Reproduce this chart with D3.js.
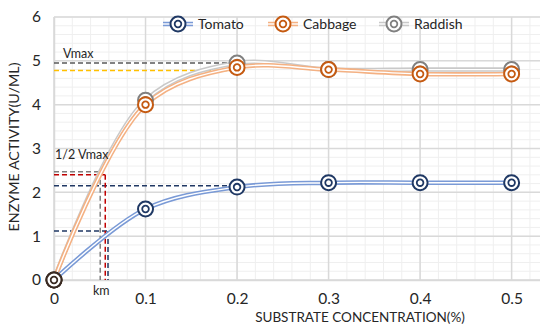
<!DOCTYPE html>
<html>
<head>
<meta charset="utf-8">
<script src="https://cdn.jsdelivr.net/npm/d3@7"></script>
<style>
body { margin: 0; background: #fff; }
text { font-family: Lato, "Open Sans", sans-serif; fill: #262626; }
</style>
</head>
<body>
<div id="chart"></div>
<script>
var width = 540, height = 325;
var margin = { left: 54, right: 0, top: 17, bottom: 45 };

// data
var concentrations = [0, 0.1, 0.2, 0.3, 0.4, 0.5];
var tomato  = [0, 1.62, 2.12, 2.22, 2.22, 2.22];
var cabbage = [0, 4.0, 4.85, 4.8, 4.7, 4.7];
var raddish = [0, 4.1, 4.95, 4.8, 4.8, 4.8];
var seriesNames = ["Tomato", "Cabbage", "Raddish"];
var xTicks = [0, 0.1, 0.2, 0.3, 0.4, 0.5];
var yTicks = [0, 1, 2, 3, 4, 5, 6];

// guide lines (Vmax, 1/2 Vmax, km)
var hGuides = [
    { y: 4.95, x0: 0, x1: 0.2, color: "#595959" },
    { y: 4.78, x0: 0, x1: 0.2, color: "#FFC000" },
    { y: 2.15, x0: 0, x1: 0.19, color: "#203864" },
    { y: 2.47, x0: 0, x1: 0.052, color: "#7F7F7F" },
    { y: 2.40, x0: 0, x1: 0.056, color: "#C00000" },
    { y: 1.12, x0: 0, x1: 0.059, color: "#203864" }
];
var vGuides = [
    { x: 0.0505, y1: 2.47, color: "#7F7F7F" },
    { x: 0.056, y1: 2.40, color: "#C00000" },
    { x: 0.059, y1: 1.12, color: "#203864" }
];

var series = [
    { name: seriesNames[0], values: tomato,  line: "#7A9AD6", mark: "#1F3864" },
    { name: seriesNames[1], values: cabbage, line: "#F4B183", mark: "#C55A11" },
    { name: seriesNames[2], values: raddish, line: "#C9C9C9", mark: "#808080" }
];

var svg = d3.select("#chart").append("svg")
    .attr("width", width)
    .attr("height", height);

var x = d3.scaleLinear().domain([0, 0.531]).range([margin.left, width - margin.right]);
var y = d3.scaleLinear().domain([0, 6]).range([height - margin.bottom, margin.top]);

// minor grid
var g = svg.append("g");
g.selectAll(".xminor")
    .data(d3.range(0, 0.531, 0.02))
    .enter().append("line")
    .attr("x1", d => x(d)).attr("x2", d => x(d))
    .attr("y1", y(0)).attr("y2", y(6))
    .attr("stroke", "#EFEFEF").attr("stroke-width", 1);
g.selectAll(".yminor")
    .data(d3.range(0, 6.01, 0.2))
    .enter().append("line")
    .attr("x1", x(0)).attr("x2", x(0.531))
    .attr("y1", d => y(d)).attr("y2", d => y(d))
    .attr("stroke", "#EFEFEF").attr("stroke-width", 1);

// major grid
g.selectAll(".xmajor")
    .data(xTicks)
    .enter().append("line")
    .attr("x1", d => x(d)).attr("x2", d => x(d))
    .attr("y1", y(0)).attr("y2", y(6))
    .attr("stroke", "#D9D9D9").attr("stroke-width", 1.5);
g.selectAll(".ymajor")
    .data(yTicks)
    .enter().append("line")
    .attr("x1", x(0)).attr("x2", x(0.531))
    .attr("y1", d => y(d)).attr("y2", d => y(d))
    .attr("stroke", "#D9D9D9").attr("stroke-width", 1.5);

// axes
var xAxis = svg.append("g")
    .attr("transform", "translate(0," + y(0) + ")")
    .call(d3.axisBottom(x).tickValues(xTicks).tickSize(0).tickPadding(13).tickFormat(d => d === 0 ? "0" : d3.format(".1f")(d)));
var yAxis = svg.append("g")
    .attr("transform", "translate(" + x(0) + ",0)")
    .call(d3.axisLeft(y).tickValues(yTicks).tickSize(0).tickPadding(13).tickFormat(d3.format("d")));
[xAxis, yAxis].forEach(function (a) {
    a.select(".domain").attr("stroke", "#D9D9D9").attr("stroke-width", 1.5);
    a.selectAll("text").attr("font-size", 15.5).attr("font-family", "Lato, sans-serif").attr("fill", "#262626");
});

svg.append("text")
    .attr("x", 360).attr("y", 322)
    .attr("text-anchor", "middle")
    .attr("font-size", 13.5)
    .text("SUBSTRATE CONCENTRATION(%)");

svg.append("text")
    .attr("transform", "translate(19,147) rotate(-90)")
    .attr("text-anchor", "middle")
    .attr("font-size", 14.3)
    .text("ENZYME ACTIVITY(U/ML)");

// guide lines
svg.selectAll(".hguide")
    .data(hGuides)
    .enter().append("line")
    .attr("x1", d => x(d.x0)).attr("x2", d => x(d.x1))
    .attr("y1", d => y(d.y)).attr("y2", d => y(d.y))
    .attr("stroke", d => d.color).attr("stroke-width", 1.5)
    .attr("stroke-dasharray", "5,3");
svg.selectAll(".vguide")
    .data(vGuides)
    .enter().append("line")
    .attr("x1", d => x(d.x)).attr("x2", d => x(d.x))
    .attr("y1", d => y(d.y1)).attr("y2", y(0))
    .attr("stroke", d => d.color).attr("stroke-width", 1.5)
    .attr("stroke-dasharray", "5,3");

// series lines, double stroke
var line = d3.line()
    .x((d, i) => x(concentrations[i]))
    .y(d => y(d))
    .curve(d3.curveCatmullRom.alpha(0.5));

series.slice().reverse().forEach(function (s) {
    svg.append("path").attr("d", line(s.values))
        .attr("fill", "none").attr("stroke", s.line).attr("stroke-width", 4.5);
    svg.append("path").attr("d", line(s.values))
        .attr("fill", "none").attr("stroke", "#fff").attr("stroke-width", 1.4);
});

function marker(sel, color) {
    sel.append("circle").attr("r", 7.5).attr("fill", "#fff")
        .attr("stroke", color).attr("stroke-width", 2);
    sel.append("circle").attr("r", 3.3).attr("fill", "#fff")
        .attr("stroke", color).attr("stroke-width", 1.8);
}

series.slice().reverse().forEach(function (s) {
    s.values.forEach(function (v, i) {
        var m = svg.append("g").attr("transform", "translate(" + x(concentrations[i]) + "," + y(v) + ")");
        marker(m, i === 0 ? "#3A2A22" : s.mark);
    });
});

// annotations
svg.append("text").attr("x", 63).attr("y", 58).attr("font-size", 12.5).text("Vmax");
svg.append("text").attr("x", 55).attr("y", 159).attr("font-size", 12.5).text("1/2 Vmax");
svg.append("text").attr("x", 93).attr("y", 295).attr("font-size", 12.5).text("km");

// legend
var legendX = [163, 268, 379];
series.forEach(function (s, i) {
    var lg = svg.append("g").attr("transform", "translate(" + legendX[i] + ",24)");
    lg.append("line").attr("x1", 0).attr("x2", 30).attr("stroke", s.line).attr("stroke-width", 4.5);
    lg.append("line").attr("x1", 0).attr("x2", 30).attr("stroke", "#fff").attr("stroke-width", 1.4);
    var m = lg.append("g").attr("transform", "translate(15,0)");
    marker(m, s.mark);
    lg.append("text").attr("x", 35).attr("y", 5).attr("font-size", 14).text(s.name);
});
</script>
</body>
</html>
